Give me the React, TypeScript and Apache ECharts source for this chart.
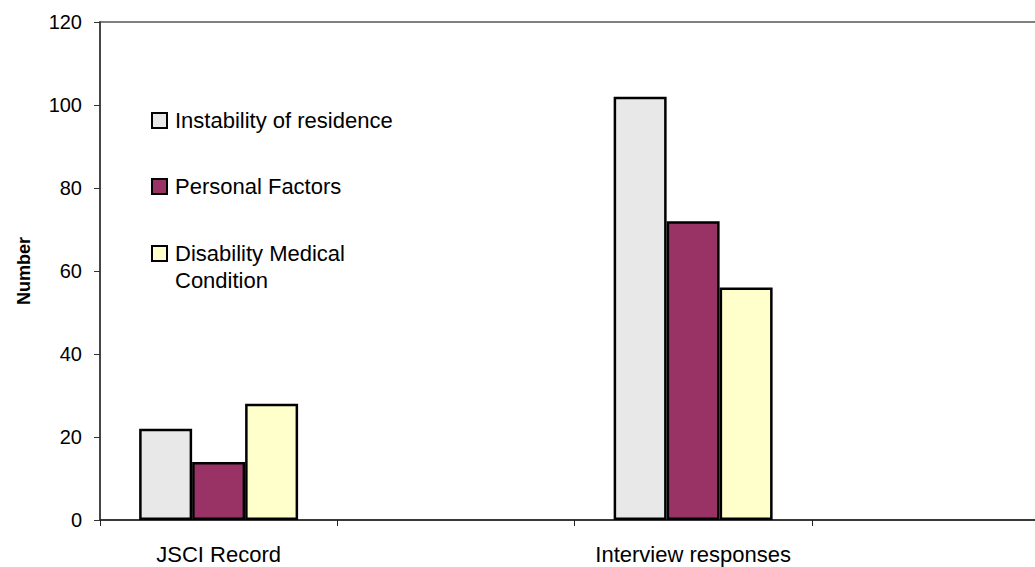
import React, { useEffect, useRef } from "react";
import * as echarts from "echarts";

const categories = ["JSCI Record", "", "Interview responses", ""];
const seriesNames = ["Instability of residence", "Personal Factors", "Disability Medical Condition"];
const instability = [22, null, 102, null];
const personal = [14, null, 72, null];
const disability = [28, null, 56, null];
const yTicks = { min: 0, max: 120, interval: 20 };
const colors = ["#E8E8E8", "#993366", "#FFFFCC"];

const FONT = "Liberation Sans, Arial, sans-serif";

export default function App() {
  const ref = useRef<HTMLDivElement>(null);
  useEffect(() => {
    if (!ref.current) return;
    document.body.style.overflow = "hidden";
    const chart = echarts.init(ref.current, undefined, { renderer: "svg" });
    const values = [instability, personal, disability];
    const legendText = {
      fontFamily: FONT,
      fontSize: 22,
      lineHeight: 27,
      color: "#000",
      padding: [0, 0, 0, 3],
    };
    const option: any = {
      animation: false,
      backgroundColor: "#ffffff",
      grid: {
        left: 100,
        top: 22,
        right: 0,
        height: 498,
        show: true,
        backgroundColor: "transparent",
        borderColor: "#808080",
        borderWidth: 2,
      },
      legend: [
        {
          orient: "vertical",
          left: 151,
          top: 107,
          padding: 0,
          itemGap: 39,
          itemWidth: 15,
          itemHeight: 15,
          icon: "rect",
          textStyle: legendText,
          data: [seriesNames[0], seriesNames[1]],
        },
        {
          orient: "vertical",
          left: 151,
          top: 213,
          padding: 0,
          itemWidth: 15,
          itemHeight: 15,
          icon: "rect",
          formatter: () => "\nDisability Medical\nCondition",
          textStyle: legendText,
          data: [seriesNames[2]],
        },
      ],
      xAxis: {
        type: "category",
        data: categories,
        axisLine: { lineStyle: { color: "#222", width: 1.5 } },
        axisTick: { show: true, interval: 0, length: 6, lineStyle: { color: "#222", width: 1 } },
        axisLabel: {
          interval: 0,
          fontFamily: FONT,
          fontSize: 22,
          color: "#000",
          margin: 23,
        },
        splitLine: { show: false },
      },
      yAxis: {
        type: "value",
        min: yTicks.min,
        max: yTicks.max,
        interval: yTicks.interval,
        name: "Number",
        nameLocation: "middle",
        nameRotate: 90,
        nameGap: 67,
        nameTextStyle: {
          fontFamily: FONT,
          fontSize: 18,
          fontWeight: "bold",
          color: "#000",
        },
        axisLine: { show: true, lineStyle: { color: "#333", width: 1.5 } },
        axisTick: { show: true, length: 6, lineStyle: { color: "#333", width: 1 } },
        axisLabel: {
          fontFamily: FONT,
          fontSize: 20,
          color: "#000",
          margin: 18,
        },
        splitLine: { show: false },
      },
      series: seriesNames.map((n, i) => ({
        name: n,
        type: "bar",
        data: values[i],
        barGap: "0%",
        barCategoryGap: "33%",
        itemStyle: {
          color: colors[i],
          borderColor: "#000",
          borderWidth: 2.5,
        },
      })),
    };
    chart.setOption(option);
    return () => chart.dispose();
  }, []);
  return (
    <div
      ref={ref}
      style={{ position: "fixed", left: 0, top: 0, width: 1049, height: 567 }}
    />
  );
}
